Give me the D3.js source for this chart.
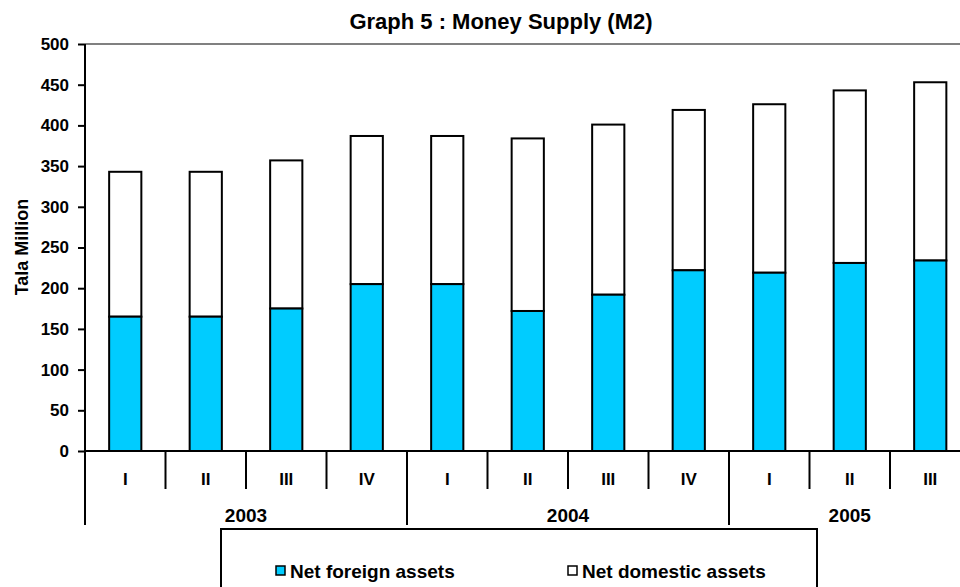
<!DOCTYPE html>
<html>
<head>
<meta charset="utf-8">
<script src="https://cdn.jsdelivr.net/npm/d3@7"></script>
<style>
  body { margin: 0; background: #fff; }
  text { font-family: "Liberation Sans", Arial, sans-serif; font-weight: bold; fill: #000; }
</style>
</head>
<body>
<script>
// data (Tala million)
const quarters = ["I", "II", "III", "IV", "I", "II", "III", "IV", "I", "II", "III"];
const years = ["2003", "2004", "2005"];
const quartersPerYear = [4, 4, 3];
const foreignAssets = [165, 165, 175, 205, 205, 172, 192, 222, 219, 231, 234];
const totalM2 = [343, 343, 357, 387, 387, 384, 401, 419, 426, 443, 453];
const domesticAssets = totalM2.map((t, i) => t - foreignAssets[i]);
const yTicks = [0, 50, 100, 150, 200, 250, 300, 350, 400, 450, 500];

const width = 960;
const height = 587;
const margin = { top: 44, left: 85, bottom: 451 };

const svg = d3.select('body')
  .append('svg')
  .attr('width', width)
  .attr('height', height);

const x = d3.scaleBand()
  .domain(d3.range(quarters.length))
  .range([margin.left, margin.left + 80.5 * quarters.length]);

const y = d3.scaleLinear()
  .domain([0, 500])
  .range([margin.bottom, margin.top]);

const barW = x.bandwidth() * 0.4;
const right = x.range()[1];

// top border of plot area
svg.append('line')
  .attr('x1', margin.left).attr('x2', right)
  .attr('y1', y(500)).attr('y2', y(500))
  .attr('stroke', '#808080').attr('stroke-width', 2);

// stacked bars
const stacked = quarters.map((q, i) => ({ i, foreign: foreignAssets[i], domestic: domesticAssets[i] }));

svg.selectAll('.dom')
  .data(stacked)
  .enter()
  .append('rect')
  .attr('x', d => x(d.i) + (x.bandwidth() - barW) / 2)
  .attr('y', d => y(d.foreign + d.domestic))
  .attr('width', barW)
  .attr('height', d => y(d.foreign) - y(d.foreign + d.domestic))
  .attr('fill', '#fff')
  .attr('stroke', '#000')
  .attr('stroke-width', 2);

svg.selectAll('.for')
  .data(stacked)
  .enter()
  .append('rect')
  .attr('x', d => x(d.i) + (x.bandwidth() - barW) / 2)
  .attr('y', d => y(d.foreign))
  .attr('width', barW)
  .attr('height', d => y(0) - y(d.foreign))
  .attr('fill', '#00ccff')
  .attr('stroke', '#000')
  .attr('stroke-width', 2);

// y axis
const yAxis = svg.append('g')
  .attr('transform', `translate(${margin.left},0)`)
  .call(d3.axisLeft(y).tickValues(yTicks).tickSize(7).tickPadding(9));
yAxis.select('.domain').remove();
yAxis.selectAll('line').attr('stroke', '#000').attr('stroke-width', 2);
yAxis.selectAll('text')
  .style('font-family', '"Liberation Sans", Arial, sans-serif')
  .style('font-weight', 'bold')
  .style('font-size', '17px')
  .attr('fill', '#000');

svg.append('line')
  .attr('x1', margin.left).attr('x2', margin.left)
  .attr('y1', y(500)).attr('y2', 525)
  .attr('stroke', '#000').attr('stroke-width', 2);

// x axis line
svg.append('line')
  .attr('x1', margin.left).attr('x2', right)
  .attr('y1', y(0)).attr('y2', y(0))
  .attr('stroke', '#000').attr('stroke-width', 2);

// quarter separators and labels
svg.selectAll('.qsep')
  .data(d3.range(1, quarters.length + 1))
  .enter()
  .append('line')
  .attr('x1', i => margin.left + i * x.step())
  .attr('x2', i => margin.left + i * x.step())
  .attr('y1', y(0)).attr('y2', 489)
  .attr('stroke', '#000').attr('stroke-width', 2);

svg.selectAll('.qlab')
  .data(quarters)
  .enter()
  .append('text')
  .attr('x', (d, i) => x(i) + x.bandwidth() / 2)
  .attr('y', 485)
  .attr('text-anchor', 'middle')
  .attr('font-size', 17)
  .text(d => d);

// year groups
const yearStart = d3.cumsum([0, ...quartersPerYear]);
svg.selectAll('.ysep')
  .data(yearStart.slice(1))
  .enter()
  .append('line')
  .attr('x1', k => margin.left + k * x.step())
  .attr('x2', k => margin.left + k * x.step())
  .attr('y1', y(0)).attr('y2', 525)
  .attr('stroke', '#000').attr('stroke-width', 2);

svg.selectAll('.ylab')
  .data(years)
  .enter()
  .append('text')
  .attr('x', (d, i) => margin.left + (yearStart[i] + yearStart[i + 1]) / 2 * x.step())
  .attr('y', 522)
  .attr('text-anchor', 'middle')
  .attr('font-size', 19)
  .text(d => d);

// y title
svg.append('text')
  .attr('transform', 'translate(28,247) rotate(-90)')
  .attr('text-anchor', 'middle')
  .attr('font-size', 18)
  .text('Tala Million');

// chart title
svg.append('text')
  .attr('x', 501)
  .attr('y', 29)
  .attr('text-anchor', 'middle')
  .attr('font-size', 22)
  .text('Graph 5 : Money Supply (M2)');

// legend
svg.append('rect')
  .attr('x', 221).attr('y', 529)
  .attr('width', 596).attr('height', 70)
  .attr('fill', '#fff')
  .attr('stroke', '#000').attr('stroke-width', 2);

const legendItems = [
  { label: 'Net foreign assets', color: '#00ccff', x: 276 },
  { label: 'Net domestic assets', color: '#fff', x: 568 }
];
const lg = svg.selectAll('.lg')
  .data(legendItems)
  .enter()
  .append('g')
  .attr('transform', d => `translate(${d.x},566)`);
lg.append('rect')
  .attr('width', 9).attr('height', 9)
  .attr('fill', d => d.color)
  .attr('stroke', '#000').attr('stroke-width', 1.5);
lg.append('text')
  .attr('x', 14).attr('y', 12)
  .attr('font-size', 19)
  .text(d => d.label);
</script>
</body>
</html>
